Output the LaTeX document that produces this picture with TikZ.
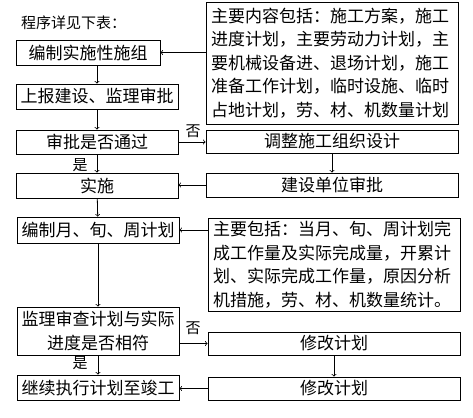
\documentclass[tikz,border=0pt]{standalone}
\usepackage{fontspec}
\setmainfont{Noto Sans CJK SC}
\usepackage{tikz}

\begin{document}
\begin{tikzpicture}[x=1pt, y=-1pt,
	font=\fontsize{17pt}{23.5pt}\selectfont,
	box/.style={rectangle, draw=black, line width=0.8pt, inner sep=0pt, minimum height=25pt},
	notebox/.style={rectangle, draw=black, line width=0.8pt, inner xsep=5pt, inner ysep=0pt, align=left, text width=242pt},
	lbl/.style={inner sep=0pt, font=\fontsize{15pt}{15pt}\selectfont}]
	\useasboundingbox (0,0) rectangle (473,417);
	\node[anchor=west, inner sep=0pt, font=\fontsize{15pt}{15pt}\selectfont] (title) at(21,23){程序详见下表：};
	% left column
	\node[box, minimum width=144pt] (b1) at(88,52.5){编制实施性施组};
	\node[box, minimum width=162pt] (b2) at(97,96.5){上报建设、监理审批};
	\node[box, minimum width=162pt, minimum height=24pt] (b3) at(97,142){审批是否通过};
	\node[box, minimum width=162pt] (b4) at(97,185.5){实施};
	\node[box, minimum width=162pt, minimum height=26pt] (b5) at(98,230){编制月、旬、周计划};
	\node[box, minimum width=162pt, minimum height=48pt, align=center] (b6) at(98,331){监理审查计划与实际\\进度是否相符};
	\node[box, minimum width=162pt] (b7) at(98,387.5){继续执行计划至竣工};
	% right column
	\node[notebox, minimum height=122pt] (r1) at(332,63){主要内容包括：施工方案，施工\\进度计划，主要劳动力计划，主\\要机械设备进、退场计划，施工\\准备工作计划，临时设施、临时\\占地计划，劳、材、机数量计划};
	\node[box, minimum width=252pt, minimum height=23pt] (r2) at(332,141.5){调整施工组织设计};
	\node[box, minimum width=252pt, minimum height=24pt] (r3) at(332,185){建设单位审批};
	\node[notebox, minimum height=93pt] (r4) at(334,264.5){主要包括：当月、旬、周计划完\\成工作量及实际完成量，开累计\\划、实际完成工作量，原因分析\\机措施，劳、材、机数量统计。};
	\node[box, minimum width=252pt, minimum height=23pt] (r5) at(334,343.5){修改计划};
	\node[box, minimum width=252pt, minimum height=23pt] (r6) at(334,388.5){修改计划};
	% labels
	\node[lbl] (no1) at(193,131){否};
	\node[lbl] (yes1) at(80,165){是};
	\node[lbl] (no2) at(193,328){否};
	\node[lbl] (yes2) at(80,363){是};
	% arrows
	\draw[line width=0.8pt,->] (r1.west |- b1) -- (b1.east);
	\draw[line width=0.8pt,->] (b1.south -| b2) -- (b2.north);
	\draw[line width=0.8pt,->] (b2) -- (b3);
	\draw[line width=0.8pt,->] (b3.east) -- (b3.east -| r2.west);
	\draw[line width=0.8pt,->] (b3) -- (b4);
	\draw[line width=0.8pt,->] (r2) -- (r3);
	\draw[line width=0.8pt,->] (r3.west) -- (r3.west -| b4.east);
	\draw[line width=0.8pt,->] (b4) -- (b5);
	\draw[line width=0.8pt,->] (r4.west |- b5) -- (b5.east);
	\draw[line width=0.8pt,->] (b5) -- (b6);
	\draw[line width=0.8pt,->] (b6.east |- r5) -- (r5.west);
	\draw[line width=0.8pt,->] (r5) -- (r6);
	\draw[line width=0.8pt,->] (b6) -- (b7);
	\draw[line width=0.8pt,->] (r6.west) -- (r6.west -| b7.east);
\end{tikzpicture}
\end{document}
